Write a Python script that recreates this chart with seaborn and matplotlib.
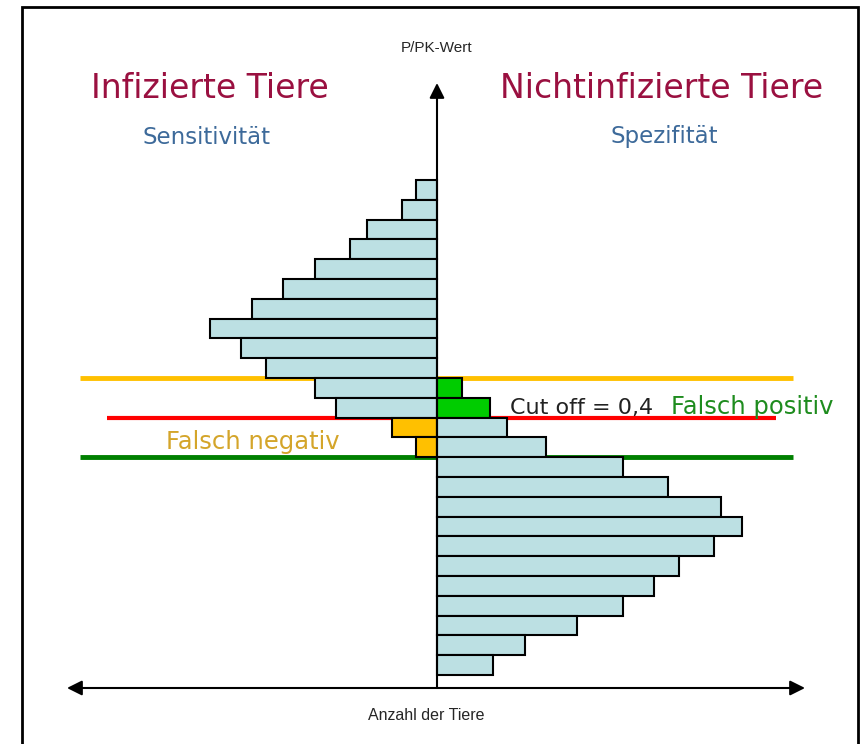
import pandas as pd
import seaborn as sns
import matplotlib
matplotlib.use("Agg")
import matplotlib.pyplot as plt
from matplotlib.patches import Rectangle

sns.set_style("white")

# P/PK classes, counted from the top (high values) downwards
left_bins = list(range(0, 14))
left_counts = [6, 10, 20, 25, 35, 44, 53, 65, 56, 49, 35, 29, 13, 6]
left_groups = ["sens"] * 12 + ["fn"] * 2

right_bins = list(range(10, 25))
right_counts = [7, 15, 20, 31, 53, 66, 81, 87, 79, 69, 62, 53, 40, 25, 16]
right_groups = ["fp"] * 2 + ["spec"] * 13

palette = {"sens": "#bce0e3", "spec": "#bce0e3", "fn": "#ffc000", "fp": "#00cc00"}

df = pd.DataFrame({
    "bin": left_bins + right_bins,
    "anzahl": [-c for c in left_counts] + right_counts,
    "gruppe": left_groups + right_groups,
})

W, H = 863, 744
X0, PX_X = 437, 3.5          # x pixel of the axis, pixel per animal
Y0, PX_Y = 180, 19.8         # top of first class, pixel per class


def fx(px):
    return px / W


def fy(py):
    return 1 - py / H


fig = plt.figure(figsize=(W / 100, H / 100), dpi=100)
ax = fig.add_axes([0, 0, 1, 1])

# cut-off lines behind the bars
ax.hlines(9.5, (80 - X0) / PX_X, (793 - X0) / PX_X, color="#ffc000", lw=3.5, zorder=0)
ax.hlines(11.5, (107 - X0) / PX_X, (776 - X0) / PX_X, color="#ff0000", lw=3, zorder=0)
ax.hlines(13.5, (80 - X0) / PX_X, (793 - X0) / PX_X, color="#008000", lw=3.5, zorder=0)

sns.barplot(data=df, x="anzahl", y="bin", hue="gruppe", palette=palette,
            orient="h", native_scale=True, dodge=False, width=1, saturation=1,
            errorbar=None, edgecolor="black", linewidth=1.5, legend=False, ax=ax)

ax.set_xlim(-X0 / PX_X, (W - X0) / PX_X)
ax.set_ylim((H - Y0) / PX_Y - 0.5, -Y0 / PX_Y - 0.5)
ax.axis("off")

# axes arrows
arrow = dict(arrowstyle="-|>,head_length=0.9,head_width=0.45", color="black", lw=1.5,
             shrinkA=0, shrinkB=0)
ax.annotate("", xy=(fx(X0), fy(83)), xytext=(fx(X0), fy(688)),
            xycoords="axes fraction", arrowprops=arrow)
ax.annotate("", xy=(fx(67), fy(688)), xytext=(fx(X0), fy(688)),
            xycoords="axes fraction", arrowprops=arrow)
ax.annotate("", xy=(fx(805), fy(688)), xytext=(fx(X0), fy(688)),
            xycoords="axes fraction", arrowprops=arrow)

# frame
fig.patches.append(Rectangle((fx(22), fy(760)), fx(858) - fx(22), fy(7) - fy(760),
                             transform=fig.transFigure, fill=False, lw=2, ec="black"))

narrow = "Liberation Sans"
fig.text(fx(X0), fy(48), "P/PK-Wert", ha="center", va="center", fontsize=11, family=narrow)
fig.text(fx(426), fy(716), "Anzahl der Tiere", ha="center", va="center", fontsize=11.5, family=narrow)

fig.text(fx(210), fy(89), "Infizierte Tiere", ha="center", va="center",
         fontsize=23.8, color="#9a1040", family="DejaVu Sans")
fig.text(fx(662), fy(89), "Nichtinfizierte Tiere", ha="center", va="center",
         fontsize=23.8, color="#9a1040", family="DejaVu Sans")
fig.text(fx(206), fy(137), "Sensitivität", ha="center", va="center",
         fontsize=16.5, color="#3d6a9a", family="DejaVu Sans")
fig.text(fx(664), fy(137), "Spezifität", ha="center", va="center",
         fontsize=16.5, color="#3d6a9a", family="DejaVu Sans")

ax.text((510 - X0) / PX_X, 11.0, "Cut off = 0,4", ha="left", va="center",
        fontsize=16, color="#222222", family="DejaVu Sans")
ax.text((671 - X0) / PX_X, 10.95, "Falsch positiv", ha="left", va="center",
        fontsize=17.5, color="#1e8c1e", family="DejaVu Sans")
ax.text((166 - X0) / PX_X, 12.75, "Falsch negativ", ha="left", va="center",
        fontsize=17.5, color="#d4a52a", family="DejaVu Sans")

fig.savefig("out.png", dpi=100)
